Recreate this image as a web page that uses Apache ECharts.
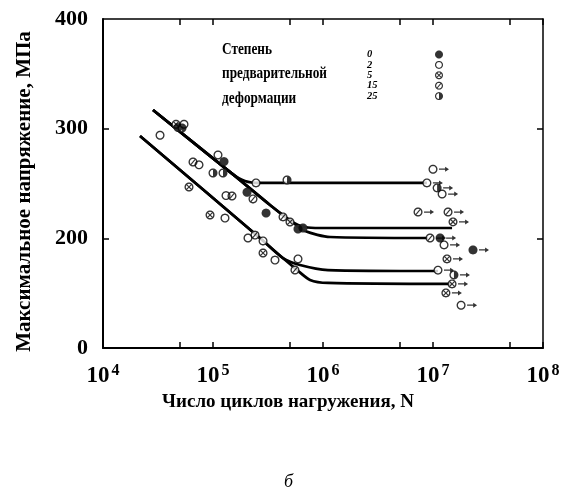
<!DOCTYPE html>
<html>
<head>
<meta charset="utf-8">
<script src="https://cdn.jsdelivr.net/npm/echarts@6/dist/echarts.min.js"></script>
<style>
html, body { margin: 0; padding: 0; background: #fff; }
#chart { width: 569px; height: 497px; }
</style>
</head>
<body>
<div id="chart"></div>
<script>
// Fatigue test results: [number of cycles N, maximum stress, MPa]
// Groups by degree of prior deformation (%). Runouts are tests stopped without failure.
const def0 = [[48100, 301], [125900, 270], [203800, 242], [303700, 223], [592500, 208.5], [658000, 209.4]];
const def0Runout = [[1.16e7, 200.3], [2.31e7, 189.4]];

const def2 = [[33000, 294], [54500, 304], [74600, 267], [111000, 276], [131300, 239], [128500, 218.5],
  [208000, 200.3], [285000, 197.6], [246000, 250.5], [366000, 180.2], [592500, 181.2]];
const def2Runout = [[8.8e6, 250.5], [1.0e7, 263], [1.21e7, 240.4], [1.26e7, 194], [1.11e7, 171], [1.8e7, 139]];

const def5 = [[46100, 304], [60500, 246.8], [94000, 221.3], [285000, 186.6], [501000, 214.9]];
const def5Runout = [[1.52e7, 215], [1.34e7, 181.2], [1.49e7, 158.4], [1.31e7, 150.2]];

const def15 = [[65800, 269.6], [148800, 238.6], [231000, 235.9], [241000, 203], [433000, 219.5], [556000, 171.1]];
const def15Runout = [[7.31e6, 224], [1.37e7, 224], [9.4e6, 200.3]];

const def25 = [[52300, 300.6], [100000, 259.6], [123300, 259.6], [470900, 253.2]];
const def25Runout = [[1.09e7, 246], [1.55e7, 166.6]];

// Fitted fatigue curves
const curve250 = [[28500, 317], [149000, 259], [195000, 252.3], [267000, 250.5], [8.8e6, 250.5]];
const curve210 = [[28500, 317], [149000, 259], [330000, 230.4], [522000, 215], [686000, 210.3], [940000, 209.4], [1.49e7, 209.4]];
const curve200 = [[28500, 317], [149000, 259], [330000, 230.4], [522000, 215], [686000, 206.6], [1.16e6, 201.2], [9.0e6, 200.3]];
const curve170 = [[21700, 293.3], [267000, 200.3], [432000, 182], [618000, 175.7], [1.11e6, 171.1], [1.11e7, 170.2]];
const curve160 = [[21700, 293.3], [267000, 200.3], [432000, 182], [581000, 171.1], [762000, 162.1], [1.11e6, 159.3], [1.49e7, 158.4]];

// Axis settings
const xExponents = [4, 5, 6, 7, 8];
const xTickValues = [1e4, 5e4, 1e5, 5e5, 1e6, 5e6, 1e7, 5e7, 1e8];
const yTicks = [100, 200, 300, 400];          // bottom value is shown as "0" (broken axis)
const yLabels = { 100: '0', 200: '200', 300: '300', 400: '400' };
const legendNames = ['0', '2', '5', '15', '25'];
const legendTitle = ['Степень', 'предварительной', 'деформации'];

const SERIF = '"Liberation Serif", "Times New Roman", serif';

// ---- marker shapes (nonzero fill: outer ring clockwise, holes reversed) ----
const C = 10, R = 10, RI = 7.0, BAR = 1.3;
function circlePts(r, reverse) {
  const pts = [];
  for (let i = 0; i < 32; i++) {
    const a = i / 32 * Math.PI * 2;
    pts.push([C + r * Math.cos(a), C + r * Math.sin(a)]);
  }
  return reverse ? pts.reverse() : pts;
}
function area(pts) {
  let s = 0;
  for (let i = 0; i < pts.length; i++) {
    const p = pts[i], q = pts[(i + 1) % pts.length];
    s += p[0] * q[1] - q[0] * p[1];
  }
  return s;
}
function positive(pts) { return area(pts) < 0 ? pts.slice().reverse() : pts; }
function bar(angleDeg) {
  const a = angleDeg * Math.PI / 180, ux = Math.cos(a), uy = Math.sin(a), vx = -uy, vy = ux, L = RI + 0.5;
  return positive([
    [C - ux * L - vx * BAR, C - uy * L - vy * BAR],
    [C + ux * L - vx * BAR, C + uy * L - vy * BAR],
    [C + ux * L + vx * BAR, C + uy * L + vy * BAR],
    [C - ux * L + vx * BAR, C - uy * L + vy * BAR]
  ]);
}
function halfDisk() {
  const pts = [];
  for (let i = 0; i <= 16; i++) {
    const a = -Math.PI / 2 + i / 16 * Math.PI;
    pts.push([C + (RI + 0.5) * Math.cos(a), C + (RI + 0.5) * Math.sin(a)]);
  }
  return positive(pts);
}
function toPath(polys) {
  return 'path://' + polys.map(function (p) {
    return 'M' + p.map(function (v) { return v[0].toFixed(2) + ' ' + v[1].toFixed(2); }).join(' L') + ' Z';
  }).join(' ');
}
const ringPolys = [positive(circlePts(R, false)), circlePts(RI, area(circlePts(R, false)) > 0)];
const SYMBOLS = {
  '0': toPath([positive(circlePts(R, false))]),
  '2': toPath(ringPolys),
  '5': toPath(ringPolys.concat([bar(45), bar(-45)])),
  '15': toPath(ringPolys.concat([bar(-50)])),
  '25': toPath(ringPolys.concat([halfDisk()]))
};
const ARROW = 'path://M0 4 L11 4 L11 1 L18 5 L11 9 L11 6 L0 6 Z';

// ---- build series ----
const lg = function (pt) { return [Math.log10(pt[0]), pt[1]]; };
const groups = [
  { name: '0', failed: def0, runout: def0Runout },
  { name: '2', failed: def2, runout: def2Runout },
  { name: '5', failed: def5, runout: def5Runout },
  { name: '15', failed: def15, runout: def15Runout },
  { name: '25', failed: def25, runout: def25Runout }
];

const series = [];
[curve250, curve210, curve200, curve170, curve160].forEach(function (c, i) {
  series.push({
    type: 'line', name: 'curve' + i, data: c.map(lg), smooth: 0.25, symbol: 'none',
    lineStyle: { color: '#000', width: 2.7 }, z: 2, silent: true
  });
});

let allPts = [], allRunouts = [];
groups.forEach(function (g) {
  allPts = allPts.concat(g.failed, g.runout);
  allRunouts = allRunouts.concat(g.runout);
});
// white backdrop under the markers
series.push({
  type: 'scatter', name: 'backdrop', data: allPts.map(lg), symbol: 'circle', symbolSize: 8,
  itemStyle: { color: '#fff' }, z: 3, silent: true
});
// runout arrows
series.push({
  type: 'scatter', name: 'runout', data: allRunouts.map(lg), symbol: ARROW, symbolSize: [10, 5],
  symbolOffset: [11, 0], itemStyle: { color: '#000' }, z: 3, silent: true
});
groups.forEach(function (g) {
  series.push({
    type: 'scatter', name: g.name, data: g.failed.concat(g.runout).map(lg),
    symbol: SYMBOLS[g.name], symbolSize: 9, itemStyle: { color: '#000' }, z: 4
  });
});

const chart = echarts.init(document.getElementById('chart'), null, { renderer: 'canvas' });
const tickStyle = { show: true, inside: true, length: 6, lineStyle: { color: '#000', width: 1.5 } };
const xTickLogs = xTickValues.map(function (v) { return Math.log10(v); });

chart.setOption({
  backgroundColor: '#fff',
  animation: false,
  grid: { left: 103, right: 26, top: 19, bottom: 149 },
  xAxis: [{
    type: 'value', min: 4, max: 8, interval: 1, position: 'bottom',
    name: 'Число циклов нагружения, N', nameLocation: 'middle', nameGap: 42,
    nameTextStyle: { fontFamily: SERIF, fontWeight: 'bold', fontSize: 19, color: '#000', padding: [0, 70, 0, 0] },
    axisLine: { lineStyle: { color: '#000', width: 2 } },
    axisTick: Object.assign({ customValues: xTickLogs }, tickStyle),
    splitLine: { show: false },
    axisLabel: {
      customValues: xExponents, margin: 15,
      formatter: function (v) { return '{b|10}{s|' + v + '}'; },
      rich: {
        b: { fontFamily: SERIF, fontWeight: 'bold', fontSize: 23, color: '#000', lineHeight: 26 },
        s: { fontFamily: SERIF, fontWeight: 'bold', fontSize: 16, color: '#000', verticalAlign: 'top', padding: [0, 0, 0, 2] }
      }
    }
  }, {
    type: 'value', min: 4, max: 8, interval: 1, position: 'top',
    axisLine: { lineStyle: { color: '#000', width: 1.5 } },
    axisTick: Object.assign({ customValues: xTickLogs }, tickStyle),
    axisLabel: { show: false }, splitLine: { show: false }
  }],
  yAxis: [{
    type: 'value', min: 100, max: 400, interval: 100, position: 'left',
    name: 'Максимальное напряжение, МПа', nameLocation: 'middle', nameGap: 68, nameRotate: 90,
    nameTextStyle: { fontFamily: SERIF, fontWeight: 'bold', fontSize: 21, color: '#000', padding: [0, 16, 0, 0] },
    axisLine: { lineStyle: { color: '#000', width: 2 } },
    axisTick: Object.assign({ customValues: [200, 300] }, tickStyle),
    splitLine: { show: false },
    axisLabel: {
      customValues: yTicks, margin: 15,
      formatter: function (v) { return yLabels[v]; },
      fontFamily: SERIF, fontWeight: 'bold', fontSize: 22, color: '#000'
    }
  }, {
    type: 'value', min: 100, max: 400, interval: 100, position: 'right',
    axisLine: { lineStyle: { color: '#000', width: 1.5 } },
    axisTick: Object.assign({ customValues: [200, 300] }, tickStyle),
    axisLabel: { show: false }, splitLine: { show: false }
  }],
  legend: {
    data: legendNames.map(function (n) { return { name: n, icon: SYMBOLS[n] }; }),
    orient: 'vertical', left: 367, top: 49, align: 'right',
    itemWidth: 8, itemHeight: 8, itemGap: -0.6, selectedMode: false, padding: 0,
    formatter: function (n) { return '{n|' + n + '}'; },
    textStyle: {
      rich: { n: { width: 63, align: 'left', lineHeight: 8, fontFamily: SERIF, fontStyle: 'italic', fontWeight: 'bold', fontSize: 10.5, color: '#000' } }
    }
  },
  graphic: [{
    type: 'text', left: 222, top: 37, scaleX: 0.78,
    style: {
      text: legendTitle.join('\n'), fill: '#000', lineHeight: 24.5,
      font: 'bold 17px ' + SERIF
    }
  }, {
    type: 'text', left: 284, top: 473,
    style: { text: 'б', fill: '#000', font: 'italic 18px ' + SERIF }
  }],
  series: series
});
</script>
</body>
</html>
